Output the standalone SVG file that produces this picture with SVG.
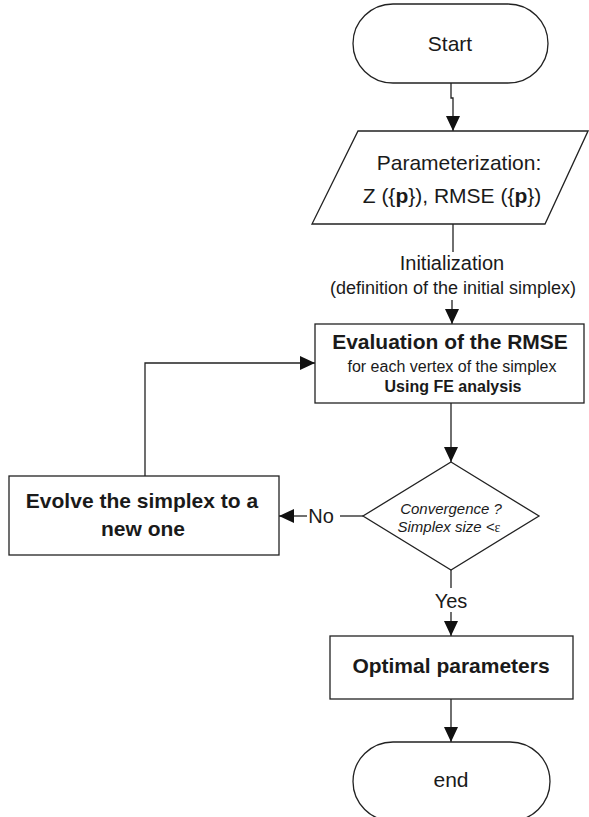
<svg xmlns="http://www.w3.org/2000/svg" width="589" height="817" viewBox="0 0 589 817">
<defs>
<style>
.shape{fill:#fff;stroke:#222;stroke-width:1.3}
.line{fill:none;stroke:#222;stroke-width:1.3}
text{font-family:"Liberation Sans",Arial,sans-serif;fill:#1a1a1a;text-anchor:middle}
.b{font-weight:bold}
.i{font-style:italic}
</style>
<marker id="arr" viewBox="0 0 15 14" refX="15" refY="7" markerWidth="15" markerHeight="14" markerUnits="userSpaceOnUse" orient="auto">
<path d="M0,0 L15,7 L0,14 Z" fill="#111"/>
</marker>
</defs>
<rect width="589" height="817" fill="#fff"/>
<g id="connectors">
<polyline class="line" points="451,83 451,98 453,98 453,131" marker-end="url(#arr)"/>
<line class="line" x1="453" y1="223" x2="453" y2="252"/>
<line class="line" x1="452" y1="300" x2="452" y2="324" marker-end="url(#arr)"/>
<line class="line" x1="451" y1="403" x2="451" y2="462" marker-end="url(#arr)"/>
<line class="line" x1="363" y1="516" x2="340" y2="516"/>
<line class="line" x1="307" y1="516" x2="279" y2="516" marker-end="url(#arr)"/>
<polyline class="line" points="145,476 145,363 315,363" marker-end="url(#arr)"/>
<line class="line" x1="451" y1="570" x2="451" y2="588"/>
<line class="line" x1="451" y1="612" x2="451" y2="636" marker-end="url(#arr)"/>
<line class="line" x1="451" y1="699" x2="451" y2="742" marker-end="url(#arr)"/>
<text x="452" y="270" font-size="20">Initialization</text>
<text x="453" y="294" font-size="18">(definition of the initial simplex)</text>
<text x="321" y="523" font-size="20">No</text>
<text x="451" y="608" font-size="20">Yes</text>
</g>
<g id="start">
<rect class="shape" x="353" y="4" width="195" height="79" rx="40" ry="39.5"/>
<text x="450" y="51" font-size="21">Start</text>
</g>
<g id="parameterization">
<polygon class="shape" points="358,131 588,131 545,224 312,224"/>
<text x="459" y="170" font-size="21">Parameterization:</text>
<text x="452" y="203" font-size="21">Z ({<tspan class="b">p</tspan>}), RMSE ({<tspan class="b">p</tspan>})</text>
</g>
<g id="evaluation">
<rect class="shape" x="315" y="324" width="269" height="79"/>
<text x="450" y="349" font-size="21" class="b">Evaluation of the RMSE</text>
<text x="452" y="372" font-size="16">for each vertex of the simplex</text>
<text x="453" y="392" font-size="16" class="b">Using FE analysis</text>
</g>
<g id="convergence">
<polygon class="shape" points="451,462 539,516 451,570 363,516"/>
<text x="451" y="514" font-size="15" class="i">Convergence ?</text>
<text x="449" y="532" font-size="15" class="i">Simplex size &lt;<tspan font-family="'Liberation Serif',serif" font-style="normal" font-size="14">ε</tspan></text>
</g>
<g id="evolve">
<rect class="shape" x="9" y="476" width="270" height="79"/>
<text x="142" y="508" font-size="21" class="b">Evolve the simplex to a</text>
<text x="143" y="536" font-size="21" class="b">new one</text>
</g>
<g id="optimal">
<rect class="shape" x="330" y="636" width="243" height="63"/>
<text x="451" y="673" font-size="21" class="b">Optimal parameters</text>
</g>
<g id="end">
<rect class="shape" x="353" y="742" width="197" height="79" rx="40" ry="39.5"/>
<text x="451" y="787" font-size="21">end</text>
</g>
</svg>
